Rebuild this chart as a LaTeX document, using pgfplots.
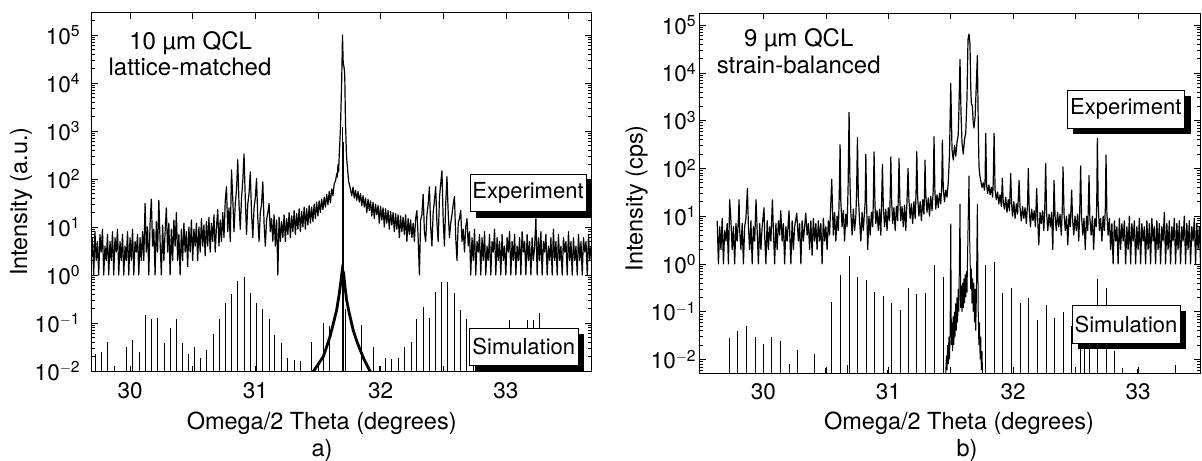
\documentclass[border=0pt]{standalone}
\usepackage{fontspec}
\setmainfont{TeX Gyre Heros}
\usepackage{pgfplots}
\pgfplotsset{compat=1.18}
\pgfplotsset{
  xrdaxis/.style={
    scale only axis, anchor=south west,
    axis line style={line width=0.8bp},
    every tick/.style={black, line width=0.6bp},
    major tick length=6bp, minor tick length=3.5bp,
    tick align=inside,
    ytick={1e-2,1e-1,1,1e1,1e2,1e3,1e4,1e5},
    yticklabels={10\textsuperscript{$-$2},10\textsuperscript{$-$1},10\textsuperscript{0},10\textsuperscript{1},10\textsuperscript{2},10\textsuperscript{3},10\textsuperscript{4},10\textsuperscript{5}},
    minor ytick={0.006,0.007,0.008,0.009,0.02,0.03,0.04,0.05,0.06,0.07,0.08,0.09,0.2,0.3,0.4,0.5,0.6,0.7,0.8,0.9,2,3,4,5,6,7,8,9,20,30,40,50,60,70,80,90,200,300,400,500,600,700,800,900,2000,3000,4000,5000,6000,7000,8000,9000,20000,30000,40000,50000,60000,70000,80000,90000,200000},
    ticklabel style={font=\fontsize{22.5bp}{25bp}\selectfont},
    xticklabel style={yshift=-7bp},
  },
  xrdexp/.style={black, line width=1.2bp, no markers, line join=round},
  xrdsim/.style={black, ycomb, line width=1bp, no markers},
}
\newcommand{\shadowbox}[5]{%
  \fill[black] (#1bp+6bp,#2bp-6bp) rectangle (#3bp+6bp,#4bp-6bp);
  \draw[line width=0.7bp, fill=white] (#1bp,#2bp) rectangle (#3bp,#4bp);
  \node[font=\fontsize{22bp}{25bp}\selectfont] at ({(#1+#3)/2*1bp},{(#2+#4)/2*1bp}) {#5};
}
\begin{document}
\begin{tikzpicture}
\path[use as bounding box] (0,0) rectangle (1202bp,461bp);
% ---------------- Left panel ----------------
\begin{axis}[ymode=log, log origin y=infty, xrdaxis, at={(91.7bp,89.3bp)}, width=499.3bp, height=359bp,
  xmin=29.694, xmax=33.68, ymin=0.00966, ymax=2.92e5,
  xtick={30,30.5,31,31.5,32,32.5,33,33.5}, xticklabels={30,,31,,32,,33,},
  yticklabel style={xshift=-8bp}]
\addplot[xrdsim] coordinates {
(29.726,0.023) (29.774,0.025) (29.819,0.041) (29.873,0.0125) (29.974,0.031) (30.022,0.044) (30.072,0.025)
(30.12,0.15) (30.173,0.12) (30.221,0.13) (30.272,0.038) (30.32,0.078) (30.367,0.12) (30.418,0.038)
(30.466,0.023) (30.514,0.031) (30.564,0.019) (30.612,0.027) (30.665,0.06) (30.713,0.12) (30.764,0.26)
(30.812,0.41) (30.86,0.76) (30.91,0.89) (30.958,0.43) (31.011,0.26) (31.059,0.2) (31.11,0.12)
(31.157,0.056) (31.211,0.038) (31.259,0.019) (31.309,0.017) (31.357,0.016) (31.45,0.041) (31.543,0.098)
(31.591,0.087) (31.697,1200) (31.700,900) (31.703,600) (31.72,0.2)
(31.849,0.09) (31.942,0.032) (31.99,0.013) (32.04,0.019) (32.088,0.018) (32.142,0.019) (32.195,0.031)
(32.243,0.041) (32.288,0.12) (32.341,0.22) (32.389,0.13) (32.442,0.45) (32.487,0.72) (32.535,0.72)
(32.588,0.43) (32.639,0.19) (32.687,0.12) (32.74,0.045) (32.79,0.03) (32.84,0.02) (32.89,0.025)
(32.94,0.03) (32.98,0.05) (33.027,0.115) (33.07,0.04) (33.12,0.05) (33.171,0.115) (33.219,0.115)
(33.267,0.16) (33.32,0.05) (33.37,0.04) (33.42,0.03) (33.5,0.03) (33.55,0.02) (33.6,0.02)
};
\addplot[black, line width=2.8bp, no markers] coordinates {
(31.44,0.008) (31.463,0.0098) (31.50,0.0135) (31.543,0.02) (31.57,0.032) (31.596,0.052) (31.62,0.09)
(31.65,0.19) (31.67,0.4) (31.685,0.8) (31.695,1.3) (31.705,1.1) (31.715,0.6) (31.729,0.3) (31.75,0.16)
(31.782,0.07) (31.81,0.042) (31.836,0.028) (31.87,0.017) (31.915,0.01) (31.94,0.008)
};
\addplot[xrdexp] coordinates {
(29.69,2) (29.70,6) (29.71,1) (29.72,8) (29.73,2) (29.74,5) (29.75,1) (29.76,7) (29.77,3) (29.78,9)
(29.79,1) (29.80,4) (29.81,2) (29.82,7) (29.83,1) (29.84,5) (29.85,2) (29.86,8) (29.87,1) (29.88,6)
(29.89,3) (29.90,9) (29.91,1) (29.92,5) (29.93,2) (29.94,7) (29.95,1) (29.96,4) (29.97,2) (29.98,8)
(29.99,1) (30.00,6) (30.01,2) (30.02,9) (30.03,1) (30.04,5) (30.05,3) (30.06,7) (30.07,1) (30.08,6)
(30.09,2) (30.10,8) (30.11,2) (30.12,31) (30.13,3) (30.14,10) (30.15,1) (30.16,12) (30.17,38) (30.18,4)
(30.19,9) (30.20,1) (30.21,13) (30.22,3) (30.23,36) (30.24,5) (30.25,1) (30.26,11) (30.27,2) (30.28,8)
(30.29,25) (30.30,3) (30.31,12) (30.32,1) (30.33,9) (30.34,2) (30.35,14) (30.36,4) (30.37,20) (30.38,2)
(30.39,7) (30.40,1) (30.41,9) (30.42,2) (30.43,12) (30.44,3) (30.45,8) (30.46,1.5) (30.47,10) (30.48,3)
(30.49,14) (30.50,2) (30.51,9) (30.52,4) (30.53,12) (30.54,2) (30.55,10) (30.56,3) (30.57,15) (30.58,4)
(30.59,11) (30.60,2.5) (30.61,13) (30.62,4) (30.63,16) (30.64,3) (30.65,12) (30.66,5) (30.67,18) (30.68,3)
(30.69,10) (30.70,23) (30.71,4) (30.72,14) (30.73,5) (30.74,20) (30.75,6) (30.76,35) (30.77,69) (30.78,8)
(30.79,25) (30.80,5) (30.81,155) (30.82,40) (30.83,8) (30.84,30) (30.85,60) (30.86,251) (30.87,30) (30.88,9)
(30.89,40) (30.90,90) (30.91,331) (30.92,40) (30.93,7) (30.94,30) (30.95,50) (30.96,141) (30.97,20) (30.98,6)
(30.99,25) (31.00,40) (31.01,102) (31.02,15) (31.03,5) (31.04,20) (31.05,30) (31.06,87) (31.07,12) (31.08,4)
(31.09,14) (31.10,20) (31.11,31) (31.12,8) (31.13,15) (31.14,5) (31.15,18) (31.16,4) (31.17,14) (31.18,1)
(31.19,16) (31.20,5) (31.21,13) (31.22,6) (31.23,18) (31.24,5) (31.25,15) (31.26,7) (31.27,20) (31.28,6)
(31.29,17) (31.30,8) (31.31,22) (31.32,7) (31.33,19) (31.34,9) (31.35,24) (31.36,8) (31.37,21) (31.38,10)
(31.39,26) (31.40,9) (31.41,24) (31.42,11) (31.43,28) (31.44,12) (31.45,26) (31.46,13) (31.47,30) (31.48,15)
(31.49,33) (31.50,17) (31.51,35) (31.52,20) (31.53,38) (31.54,23) (31.55,42) (31.56,26) (31.57,48) (31.58,29)
(31.59,55) (31.60,32) (31.61,62) (31.62,45) (31.63,80) (31.64,90) (31.65,130) (31.655,110) (31.66,200)
(31.665,140) (31.67,300) (31.68,1200) (31.69,12000) (31.696,100000) (31.702,25000) (31.708,22000)
(31.714,15000) (31.72,1500) (31.728,300) (31.735,180) (31.745,90) (31.755,70)
(31.76,60) (31.77,45) (31.78,68) (31.79,40) (31.80,58) (31.81,36) (31.82,55) (31.83,33) (31.84,50) (31.85,28)
(31.86,45) (31.87,26) (31.88,40) (31.89,20) (31.90,38) (31.91,22) (31.92,35) (31.93,17) (31.94,33) (31.95,15)
(31.96,30) (31.97,18) (31.98,28) (31.99,12) (32.00,27) (32.01,14) (32.02,25) (32.03,10) (32.04,24) (32.05,12)
(32.06,22) (32.07,9) (32.08,21) (32.09,11) (32.10,20) (32.11,8) (32.12,19) (32.13,9) (32.14,18) (32.15,6)
(32.16,17) (32.17,8) (32.18,16) (32.19,7) (32.20,18) (32.21,5) (32.22,15) (32.23,7) (32.24,14) (32.25,6)
(32.26,12) (32.27,5) (32.28,15) (32.29,22) (32.30,6) (32.31,1) (32.32,14) (32.33,18) (32.34,48) (32.35,8)
(32.36,5) (32.37,18) (32.38,30) (32.39,69) (32.40,10) (32.41,4) (32.42,20) (32.43,35) (32.44,69) (32.45,12)
(32.46,5) (32.47,40) (32.48,80) (32.49,148) (32.50,14) (32.51,4) (32.52,30) (32.53,112) (32.54,20) (32.55,6)
(32.56,12) (32.57,18) (32.58,30) (32.59,43) (32.60,6) (32.61,2) (32.62,12) (32.63,15) (32.64,22) (32.65,5)
(32.66,9) (32.67,3) (32.68,10) (32.69,15) (32.70,4)
(32.71,8) (32.72,1) (32.73,6) (32.74,2) (32.75,9) (32.76,1) (32.77,5) (32.78,3) (32.79,7) (32.80,1)
(32.81,6) (32.82,2) (32.83,8) (32.84,1) (32.85,4) (32.86,2) (32.87,7) (32.88,1) (32.89,5) (32.90,3)
(32.91,9) (32.92,1) (32.93,6) (32.94,2) (32.95,5) (32.96,1) (32.97,7) (32.98,2) (32.99,4) (33.00,1)
(33.01,6) (33.02,3) (33.03,8) (33.04,1) (33.05,5) (33.06,2) (33.07,7) (33.08,1) (33.09,4) (33.10,2)
(33.11,6) (33.12,1) (33.13,8) (33.14,3) (33.15,5) (33.16,1) (33.17,7) (33.18,2) (33.19,5) (33.20,1)
(33.21,6) (33.22,2) (33.23,4) (33.24,15) (33.25,1) (33.26,6) (33.27,2) (33.28,8) (33.29,1) (33.30,5)
(33.31,3) (33.32,7) (33.33,1) (33.34,4) (33.35,2) (33.36,6) (33.37,1) (33.38,9) (33.39,2) (33.40,5)
(33.41,1) (33.42,7) (33.43,2) (33.44,4) (33.45,1) (33.46,6) (33.47,3) (33.48,5) (33.49,1) (33.50,8)
(33.51,2) (33.52,5) (33.53,1) (33.54,6) (33.55,2) (33.56,4) (33.57,1) (33.58,7) (33.59,2) (33.60,5)
(33.61,1) (33.62,6) (33.63,3) (33.64,5) (33.65,1) (33.66,7) (33.67,2) (33.68,4)
};
\end{axis}
% ---------------- Right panel ----------------
\begin{axis}[ymode=log, log origin y=infty, xrdaxis, at={(699.7bp,87.7bp)}, width=500.6bp, height=360bp,
  xmin=29.49, xmax=33.498, ymin=0.00513, ymax=1.76e5,
  xtick={30,30.5,31,31.5,32,32.5,33}, xticklabels={30,,31,,32,,33}]
\addplot[xrdsim] coordinates {
(29.725,0.028) (29.792,0.04) (29.864,0.05) (29.933,0.03) (29.997,0.021) (30.064,0.03) (30.133,0.024)
(30.206,0.008) (30.272,0.016) (30.406,0.013) (30.499,0.0065) (30.547,0.16) (30.614,0.6) (30.67,0.0075)
(30.686,1.45) (30.753,0.54) (30.825,0.45) (30.891,0.26) (30.958,0.21) (30.99,0.006) (31.027,0.15)
(31.094,0.11) (31.158,0.32) (31.228,0.24) (31.3,0.25) (31.372,0.95) (31.439,0.54)
(31.78,0.94) (31.847,1.1) (31.913,0.25) (31.988,0.31) (32.055,0.15) (32.121,0.19) (32.194,0.066)
(32.266,0.137) (32.332,0.073) (32.399,0.1) (32.468,0.05) (32.54,0.08) (32.568,0.03) (32.607,0.06)
(32.674,0.49) (32.743,0.32) (32.81,0.015) (32.874,0.0065) (32.994,0.0062) (33.3,0.0075)
};
\addplot[black, line width=1bp, no markers] coordinates {
(31.46,0.005) (31.465,0.012) (31.47,0.006) (31.475,0.02) (31.48,0.008) (31.485,0.03) (31.49,0.01)
(31.495,0.04) (31.5,7) (31.505,0.02) (31.51,0.06) (31.515,0.015) (31.52,0.08) (31.525,0.02) (31.53,0.1)
(31.535,0.03) (31.54,0.15) (31.545,0.04) (31.55,0.2) (31.555,0.06) (31.56,0.3) (31.565,0.1) (31.574,18)
(31.58,0.12) (31.585,0.35) (31.59,0.1) (31.595,0.4) (31.60,0.12) (31.605,0.5) (31.61,0.15) (31.615,0.6)
(31.62,0.2) (31.625,0.7) (31.63,0.25) (31.638,5) (31.646,70) (31.652,3) (31.66,0.3) (31.665,0.8)
(31.67,0.15) (31.675,0.5) (31.68,0.1) (31.685,0.4) (31.69,0.06) (31.695,0.3) (31.70,0.04) (31.705,0.2)
(31.713,18) (31.72,0.1) (31.725,0.02) (31.73,0.06) (31.735,0.01) (31.74,0.03) (31.745,0.006)
(31.75,0.015) (31.755,0.004)
};
\addplot[xrdexp] coordinates {
(29.63,8) (29.64,1) (29.65,6) (29.66,2) (29.67,9) (29.68,1) (29.69,5) (29.70,3) (29.71,7) (29.72,1)
(29.73,22) (29.74,8) (29.75,2) (29.76,6) (29.77,1) (29.78,7) (29.79,3) (29.80,9) (29.805,22) (29.81,5)
(29.82,2) (29.83,7) (29.84,1) (29.85,6) (29.86,9) (29.872,38) (29.88,6) (29.89,2) (29.90,8) (29.91,1)
(29.92,6) (29.93,3) (29.941,22) (29.95,5) (29.96,1) (29.97,7) (29.98,2) (29.99,6) (30.005,15) (30.01,4)
(30.02,1) (30.03,8) (30.04,2) (30.05,6) (30.06,3) (30.072,22) (30.08,5) (30.09,1) (30.10,7) (30.11,2)
(30.12,8) (30.13,4) (30.139,13) (30.15,3) (30.16,7) (30.17,1) (30.18,6) (30.19,3) (30.205,13) (30.21,5)
(30.22,1) (30.23,8) (30.24,2) (30.25,6) (30.267,11.5) (30.28,3) (30.29,7) (30.30,1) (30.31,8) (30.32,3)
(30.339,11.5) (30.35,4) (30.36,7) (30.37,2) (30.38,8) (30.39,1.5) (30.40,9) (30.41,3) (30.42,7) (30.43,2)
(30.44,8) (30.45,3) (30.46,7) (30.47,1) (30.48,9) (30.49,3) (30.50,6) (30.51,2) (30.52,8) (30.53,4)
(30.547,59) (30.555,10) (30.56,4) (30.57,12) (30.58,3) (30.59,10) (30.60,5) (30.607,25) (30.614,312)
(30.62,20) (30.63,6) (30.64,13) (30.65,3) (30.66,11) (30.67,6) (30.678,40) (30.686,1480) (30.693,50)
(30.70,12) (30.71,4) (30.72,14) (30.73,5) (30.74,10) (30.746,30) (30.753,440) (30.76,25) (30.77,8)
(30.78,3) (30.79,12) (30.80,5) (30.81,13) (30.815,20) (30.82,197) (30.827,15) (30.835,2) (30.845,10)
(30.855,4) (30.865,12) (30.875,6) (30.88,20) (30.886,222) (30.893,18) (30.90,7) (30.91,13) (30.92,5)
(30.93,14) (30.94,4) (30.947,22) (30.953,121) (30.96,16) (30.97,6) (30.98,14) (30.99,5) (31.00,15)
(31.01,8) (31.015,25) (31.02,174) (31.027,20) (31.035,7) (31.045,15) (31.055,5) (31.065,16) (31.075,8)
(31.08,25) (31.086,161) (31.093,20) (31.10,8) (31.11,16) (31.12,6) (31.13,17) (31.14,5) (31.15,22)
(31.158,100) (31.165,22) (31.175,9) (31.185,18) (31.195,7) (31.205,20) (31.215,9) (31.222,30) (31.228,222)
(31.235,25) (31.245,10) (31.255,20) (31.265,8) (31.275,22) (31.285,11) (31.29,30) (31.294,149) (31.30,28)
(31.31,12) (31.32,24) (31.33,10) (31.34,26) (31.35,13) (31.36,35) (31.366,462) (31.373,35) (31.38,14)
(31.39,28) (31.40,15) (31.41,30) (31.42,18) (31.428,45) (31.433,390) (31.44,38) (31.45,20) (31.46,35)
(31.47,25) (31.48,50) (31.49,200) (31.5,6000) (31.51,250) (31.52,150) (31.53,300) (31.54,180) (31.55,350)
(31.56,500) (31.566,2000) (31.574,19000) (31.582,1500) (31.59,350) (31.60,200) (31.61,400) (31.62,550)
(31.63,3000) (31.638,49000) (31.646,65000) (31.654,40000) (31.66,5000) (31.665,2300) (31.673,2000)
(31.68,900) (31.686,700) (31.695,1200) (31.705,6000) (31.713,23000) (31.72,900) (31.726,110) (31.733,70)
(31.74,56) (31.75,40) (31.76,50) (31.77,35) (31.775,60) (31.78,540) (31.787,45) (31.795,30) (31.805,45)
(31.815,28) (31.825,40) (31.835,25) (31.84,50) (31.847,540) (31.855,35) (31.865,22) (31.875,32) (31.885,18)
(31.895,28) (31.905,16) (31.913,62) (31.92,20) (31.93,14) (31.94,25) (31.95,12) (31.96,22) (31.97,13)
(31.98,78) (31.987,18) (31.995,10) (32.005,20) (32.015,9) (32.025,18) (32.035,11) (32.047,56) (32.055,15)
(32.065,8) (32.075,16) (32.085,9) (32.095,15) (32.105,7) (32.115,18) (32.121,100) (32.128,14) (32.138,6)
(32.148,14) (32.158,8) (32.168,13) (32.178,6) (32.188,38) (32.195,10) (32.205,2.5) (32.215,12) (32.225,7)
(32.235,13) (32.245,5) (32.253,16) (32.26,126) (32.267,12) (32.277,5) (32.287,11) (32.297,6) (32.307,12)
(32.317,2) (32.327,56) (32.335,10) (32.345,5) (32.355,12) (32.365,6) (32.375,11) (32.385,4) (32.393,14)
(32.399,107) (32.407,11) (32.417,5) (32.427,10) (32.437,2.5) (32.447,11) (32.457,6) (32.468,35) (32.475,9)
(32.485,4) (32.495,10) (32.505,5) (32.515,11) (32.525,3) (32.533,14) (32.54,112) (32.547,10) (32.557,4)
(32.567,9) (32.577,2) (32.587,10) (32.597,5) (32.607,71) (32.614,9) (32.624,4) (32.634,10) (32.644,2)
(32.654,9) (32.664,6) (32.669,20) (32.674,427) (32.68,20) (32.69,5) (32.70,9) (32.71,3) (32.72,10)
(32.73,5) (32.738,15) (32.743,190) (32.75,12) (32.76,4)
(32.77,9) (32.78,2) (32.79,7) (32.80,1) (32.81,8) (32.82,3) (32.83,6) (32.84,1) (32.85,9) (32.86,2)
(32.87,7) (32.88,3) (32.89,8) (32.90,1) (32.91,6) (32.92,2) (32.93,10) (32.94,1) (32.95,7) (32.96,3)
(32.97,8) (32.98,1) (32.99,6) (33.00,2) (33.01,9) (33.02,1) (33.03,7) (33.04,3) (33.05,6) (33.06,1)
(33.07,8) (33.08,2) (33.09,7) (33.10,1) (33.11,9) (33.12,3) (33.13,6) (33.14,1) (33.15,8) (33.16,2)
(33.17,7) (33.18,1) (33.19,6) (33.20,3) (33.21,12) (33.22,1) (33.23,7) (33.24,2) (33.25,8) (33.26,1)
(33.27,6) (33.28,3) (33.29,9) (33.30,1) (33.31,7) (33.32,2) (33.33,8) (33.34,1) (33.35,6) (33.36,3)
(33.37,10) (33.38,1) (33.39,7) (33.40,2) (33.41,8) (33.42,1) (33.43,6) (33.44,3) (33.45,9) (33.46,1)
(33.47,7) (33.48,2) (33.49,6) (33.50,1)
};
\end{axis}
% ---------------- Boxes ----------------
\shadowbox{470}{249.3}{586}{286.7}{Experiment}
\shadowbox{469.3}{96}{578.3}{133}{Simulation}
\shadowbox{1067}{332.7}{1184.5}{371}{Experiment}
\shadowbox{1072}{117.7}{1180}{156}{Simulation}
% ---------------- Texts ----------------
\begin{scope}[every node/.style={font=\fontsize{24bp}{27bp}\selectfont}]
\node at (190.7bp,417.7bp) {10 µm QCL};
\node at (190bp,394.3bp) {lattice-matched};
\node at (798.7bp,421bp) {9 µm QCL};
\node at (798.7bp,396bp) {strain-balanced};
\end{scope}
\begin{scope}[every node/.style={font=\fontsize{23.5bp}{26bp}\selectfont}]
\node[rotate=90] at (21bp,259.3bp) {Intensity (a.u.)};
\node[rotate=90] at (636.5bp,262.7bp) {Intensity (cps)};
\node at (321.7bp,38bp) {Omega/2 Theta (degrees)};
\node at (959bp,38bp) {Omega/2 Theta (degrees)};
\node at (322bp,11bp) {a)};
\node at (967bp,11bp) {b)};
\end{scope}
\end{tikzpicture}
\end{document}
